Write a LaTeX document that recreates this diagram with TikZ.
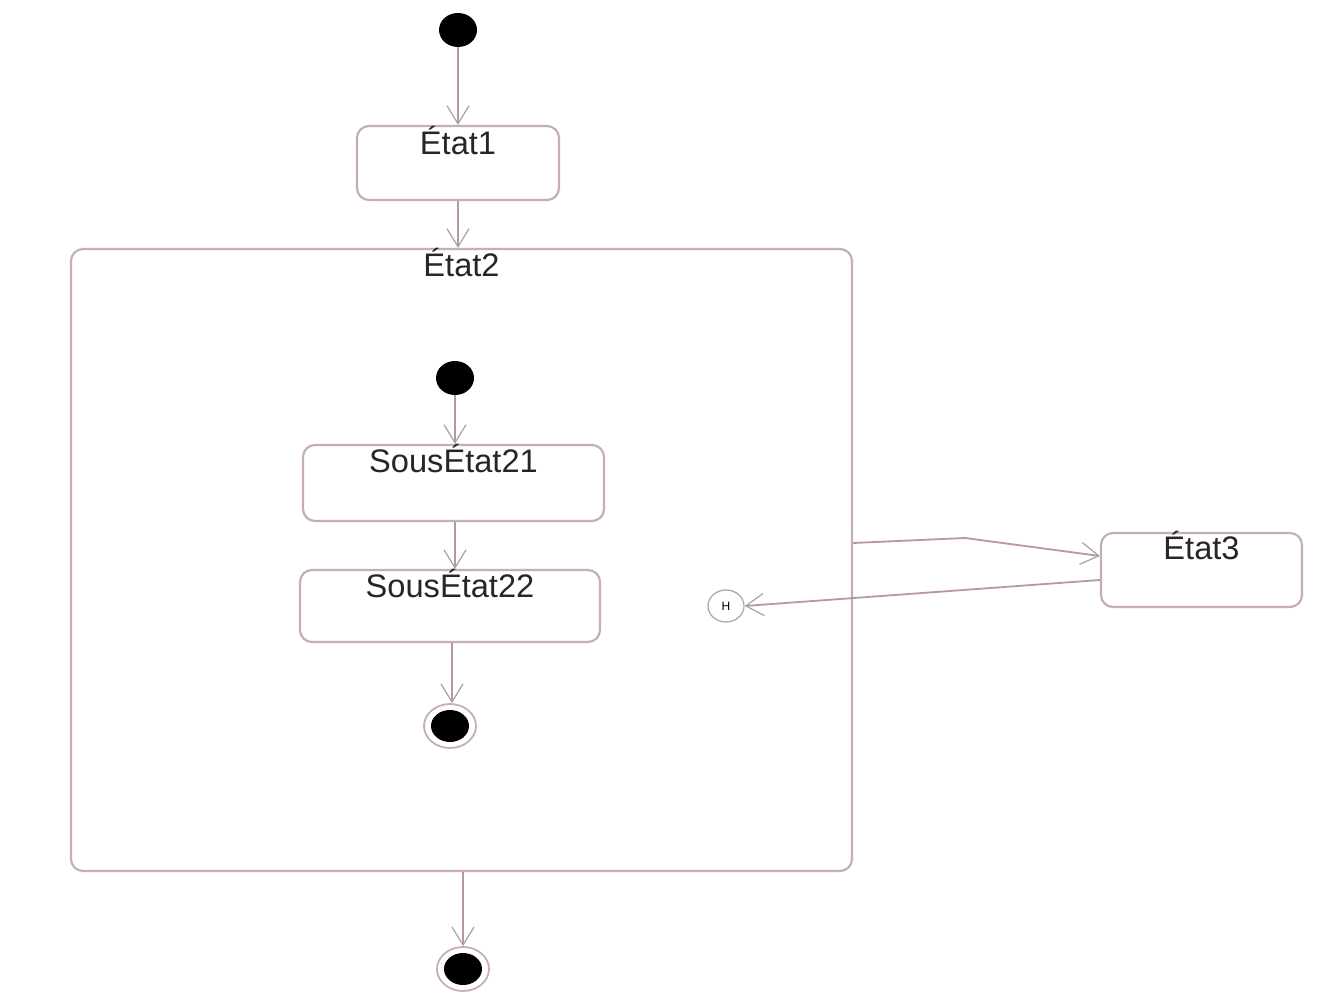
\documentclass[tikz,border=0pt]{standalone}
\usepackage{fontspec}
\setmainfont{Liberation Sans}
\usetikzlibrary{arrows.meta,shapes.geometric,calc}
\definecolor{edgecol}{RGB}{184,150,165}
\definecolor{boxcol}{RGB}{198,174,184}
\definecolor{tipcol}{RGB}{170,160,165}
\tikzset{
  statebox/.style={draw=boxcol, line width=1.1pt, rounded corners=6pt, inner sep=0pt},
  lbl/.style={font=\fontsize{16.3}{18}\selectfont, text=black!85, anchor=base, inner sep=0pt},
  startdot/.style={ellipse, fill=black, draw=none, inner sep=0pt,
    minimum width=19pt, minimum height=17pt},
  enddot/.style={ellipse, draw=boxcol, line width=0.9pt, inner sep=0pt,
    minimum width=26pt, minimum height=22pt,
    path picture={\fill[black] (path picture bounding box.center) ellipse (9.5pt and 8pt);}},
  histnode/.style={ellipse, draw=gray!70, line width=0.6pt, inner sep=0pt,
    minimum width=18pt, minimum height=16pt, font=\fontsize{6}{7}\selectfont},
  trans/.style={draw=edgecol, line width=0.9pt,
    -{Straight Barb[length=9pt,width=11pt,line width=0.6pt,color=tipcol]}},
}
\begin{document}
\begin{tikzpicture}[x=0.5pt,y=-0.5pt]
\useasboundingbox (0,0) rectangle (1343,1005);
\fill[white] (0,0) rectangle (1343,1005);

% top level states
\node[startdot] (init) at (458,30) {};
\node[statebox, minimum width=101pt, minimum height=37pt] (e1) at (458,163) {};
\node[lbl] (e1t) at ($(e1.north)+(0,30)$) {État1};

\node[statebox, minimum width=390.5pt, minimum height=311pt] (e2) at (461.5,560) {};
\node[lbl] (e2t) at ($(e2.north)+(0,29)$) {État2};

\node[statebox, minimum width=100.5pt, minimum height=37pt] (e3) at (1201.5,570) {};
\node[lbl] (e3t) at ($(e3.north)+(0,28)$) {État3};

\node[enddot] (fin) at (463,969) {};

% inside État2
\node[startdot] (init2) at (455,378) {};
\node[statebox, minimum width=150.5pt, minimum height=38pt] (s21) at (453.5,483) {};
\node[lbl] (s21t) at ($(s21.north)+(0,29)$) {SousÉtat21};
\node[statebox, minimum width=150pt, minimum height=36pt] (s22) at (450,606) {};
\node[lbl] (s22t) at ($(s22.north)+(0,29)$) {SousÉtat22};
\node[enddot] (fin2) at (450,726) {};
\node[histnode] (hist) at (726,606) {H};

% transitions
\draw[trans] (init) -- (e1.north);
\draw[trans] (e1.south) -- (e1.south |- e2.north);
\draw[trans] (init2) -- (init2 |- s21.north);
\draw[trans] (s21.south -| init2) -- (init2 |- s22.north);
\coordinate (s22out) at ($(s22.south)+(2,0)$);
\draw[trans] (s22out) -- (s22out |- fin2.north);
\coordinate (e2out) at (fin |- e2.south);
\draw[trans] (e2out) -- (fin.north);
\coordinate (e2right) at (e2.east |- 0,543);
\coordinate (bend) at (965,538);
\coordinate (e3in) at (e3.west |- 0,556);
\draw[trans] (e2right) -- (bend) -- (e3in);
\coordinate (e3out) at (e3.west |- 0,580);
\draw[trans] (e3out) -- (hist.east);
\end{tikzpicture}
\end{document}
